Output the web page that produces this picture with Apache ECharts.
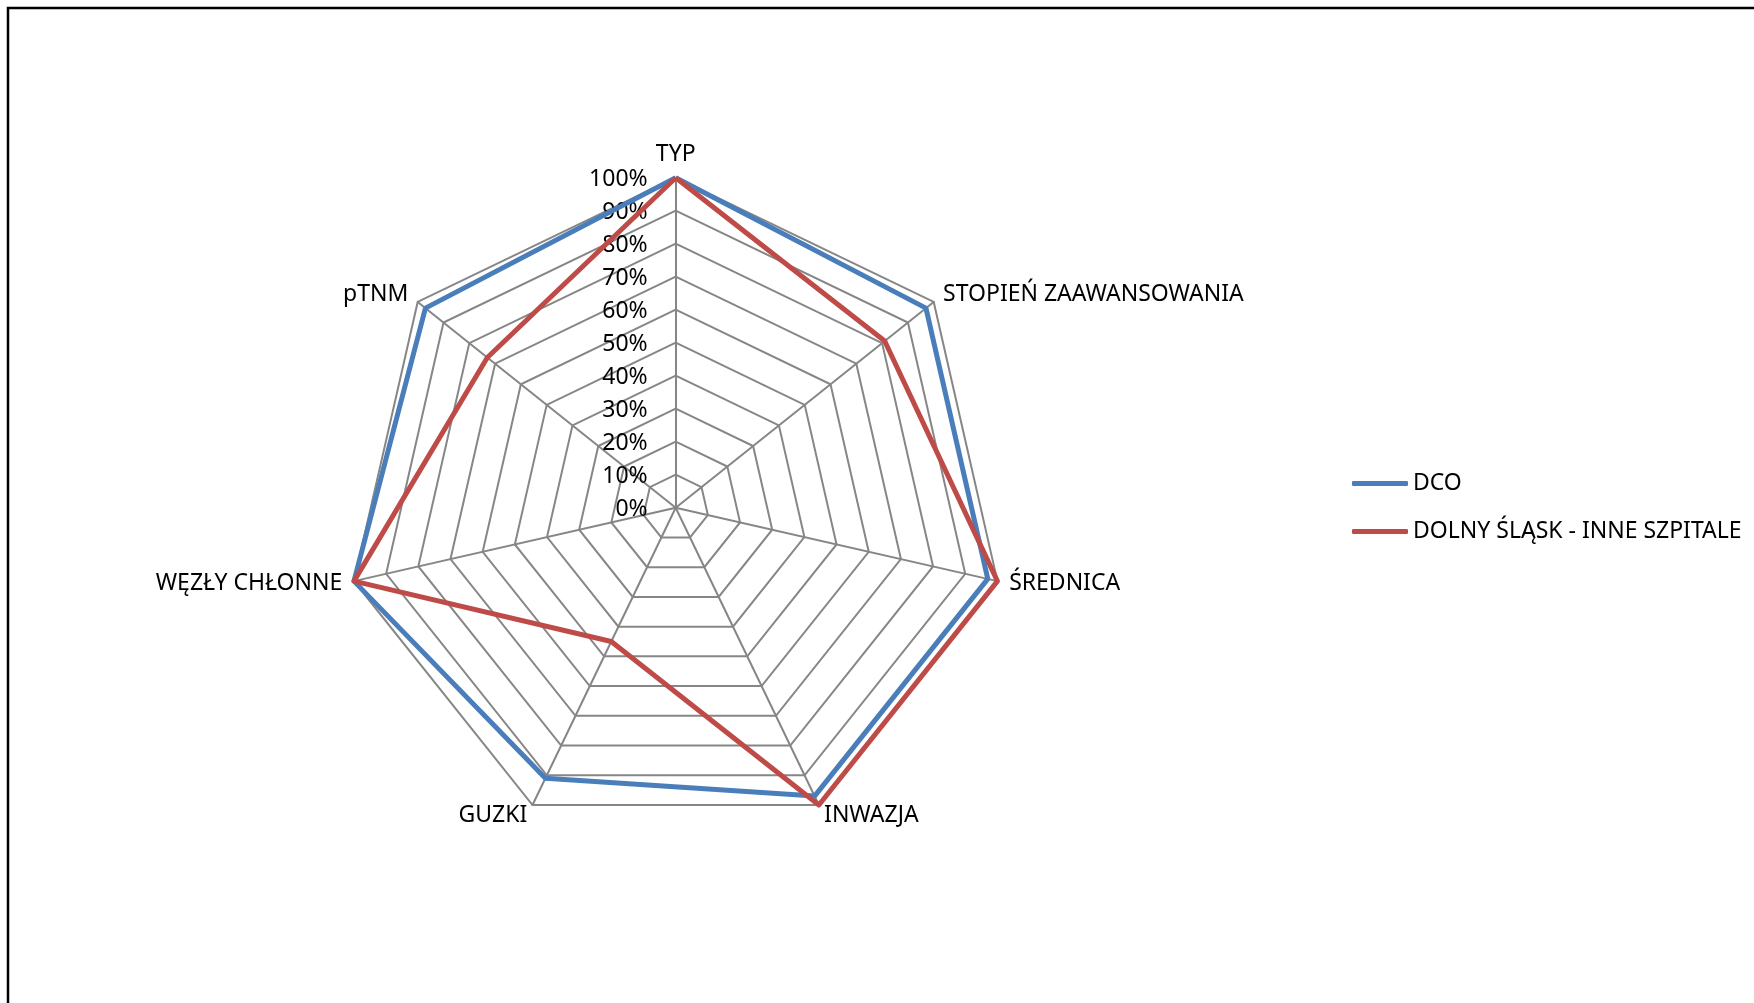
<!DOCTYPE html>
<html>
<head>
<meta charset="utf-8">
<script src="https://cdn.jsdelivr.net/npm/echarts@6/dist/echarts.min.js"></script>
<style>
html,body{margin:0;padding:0;background:#fff;}
#chart{width:1754px;height:1003px;}
</style>
</head>
<body>
<div id="chart"></div>
<script>
// Categories in clockwise order starting from the top
const categories = ['TYP', 'STOPIEŃ ZAAWANSOWANIA', 'ŚREDNICA', 'INWAZJA', 'GUZKI', 'WĘZŁY CHŁONNE', 'pTNM'];
const seriesNames = ['DCO', 'DOLNY ŚLĄSK - INNE SZPITALE'];
const dcoValues = [100, 97, 97, 97, 91, 100, 97];
const dolnySlaskValues = [100, 81, 100, 100, 45, 100, 73];
const tickValues = [0, 10, 20, 30, 40, 50, 60, 70, 80, 90, 100];

const FONT = 'Noto Sans';
const GRID_GRAY = '#868686';
const BLUE = '#4A7EBB';
const RED = '#BE4B48';

// ECharts places indicators counter-clockwise; reorder so they run clockwise
const order = [0].concat(categories.slice(1).map((_, i) => categories.length - 1 - i));
const reorder = arr => order.map(i => arr[i]);

const cx = 675.7, cy = 507.7, R = 330;

const chart = echarts.init(document.getElementById('chart'), null, {renderer: 'canvas'});
chart.setOption({
  backgroundColor: '#ffffff',
  animation: false,
  textStyle: {fontFamily: FONT, color: '#000'},
  graphic: [{
    type: 'rect',
    shape: {x: 8, y: 8, width: 2000, height: 2000},
    style: {fill: 'none', stroke: '#000', lineWidth: 2.5},
    silent: true
  }],
  legend: {
    orient: 'vertical',
    left: 1347,
    top: 465,
    itemWidth: 56,
    itemHeight: 5,
    itemGap: 21,
    icon: 'roundRect',
    textStyle: {fontFamily: FONT, fontSize: 23, color: '#000', lineHeight: 27},
    data: seriesNames
  },
  grid: {left: cx, top: cy - R + 2, width: 10, height: R},
  xAxis: {type: 'value', show: false},
  yAxis: {
    type: 'value', min: 0, max: 100, interval: 10,
    axisLine: {show: false}, axisTick: {show: false}, splitLine: {show: false},
    axisLabel: {
      formatter: v => v + '%', fontSize: 23, fontFamily: FONT, color: '#000', margin: 28,
      customValues: tickValues
    }
  },
  radar: {
    center: [cx, cy],
    radius: R,
    startAngle: 90,
    shape: 'polygon',
    splitNumber: 10,
    indicator: reorder(categories).map(n => ({name: n, min: 0, max: 100})),
    axisName: {color: '#000', fontSize: 23, fontFamily: FONT},
    nameGap: 12,
    axisLine: {lineStyle: {color: GRID_GRAY, width: 2}},
    splitLine: {lineStyle: {color: GRID_GRAY, width: 2}},
    splitArea: {show: false},
    axisLabel: {show: false},
    axisTick: {show: false}
  },
  series: [
    {
      name: seriesNames[0], type: 'radar', symbol: 'none',
      lineStyle: {color: BLUE, width: 5}, itemStyle: {color: BLUE},
      data: [{value: reorder(dcoValues), name: seriesNames[0]}]
    },
    {
      name: seriesNames[1], type: 'radar', symbol: 'none',
      lineStyle: {color: RED, width: 5}, itemStyle: {color: RED},
      data: [{value: reorder(dolnySlaskValues), name: seriesNames[1]}]
    }
  ]
});
</script>
</body>
</html>
